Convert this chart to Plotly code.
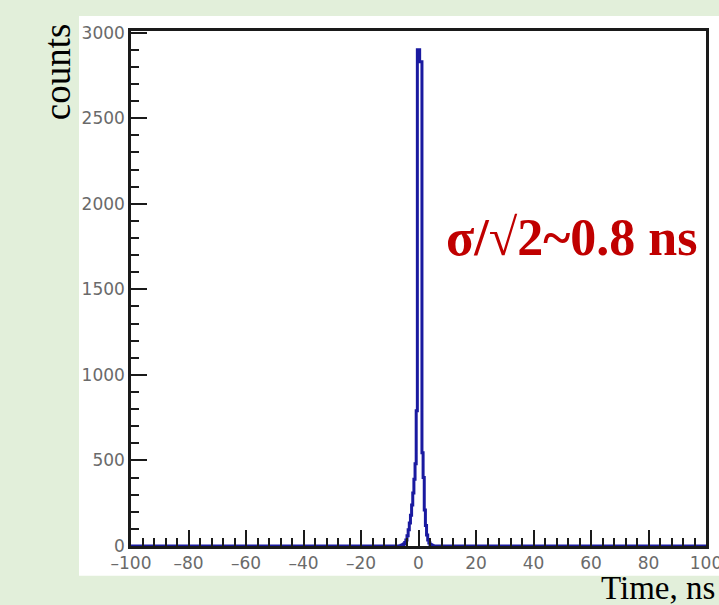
import plotly.graph_objects as go

# Histogram (step) data: left bin edges in ns and counts; zero elsewhere
bin_left_ns = [-100.0, -6.4, -6.0, -5.6, -5.2, -4.8, -4.4, -4.0, -3.6, -3.2, -2.8, -2.4,
               -2.0, -1.6, -1.2, -0.8, -0.4, 0.0, 0.4, 0.8, 1.2, 1.6, 2.0, 2.4, 2.8,
               3.2, 3.6, 4.0, 4.4, 4.8, 5.2, 100.0]
counts = [0, 2, 4, 7, 12, 20, 35, 60, 95, 135, 180, 240,
          310, 390, 480, 790, 2900, 2900, 2830, 2830, 545, 400, 210, 120, 65,
          35, 18, 9, 4, 2, 0, 0]

x_ticks = [-100, -80, -60, -40, -20, 0, 20, 40, 60, 80, 100]
x_tick_labels = ["\u2013100", "\u201380", "\u201360", "\u201340", "\u201320", "0",
                 "20", "40", "60", "80", "100"]
y_ticks = [0, 500, 1000, 1500, 2000, 2500, 3000]

fig = go.Figure()
fig.add_trace(go.Scatter(
    x=bin_left_ns, y=counts, mode="lines", line_shape="hv",
    line=dict(color="#1a1aa0", width=3), showlegend=False, hoverinfo="skip"))

# white panel behind the plot
fig.add_shape(type="rect", xref="paper", yref="paper",
              x0=-0.0904, x1=1.03, y0=-0.058, y1=1.029,
              fillcolor="white", line=dict(width=0), layer="below")

axis_common = dict(showline=True, linecolor="#1a1a1a", linewidth=2.5, mirror=True,
                   showgrid=False, zeroline=False, ticks="inside", ticklen=16,
                   tickwidth=2, tickcolor="#1a1a1a", ticklabeloverflow="allow",
                   automargin=False,
                   tickfont=dict(family="DejaVu Sans", size=17, color="#6a6a6a"))

fig.update_xaxes(range=[-100, 100], tickvals=x_ticks, ticktext=x_tick_labels,
                 minor=dict(dtick=4, tick0=-100, ticks="inside", ticklen=8, tickwidth=2,
                            tickcolor="#1a1a1a", showgrid=False),
                 **axis_common)
fig.update_yaxes(range=[0, 3010], tickvals=y_ticks,
                 minor=dict(dtick=100, tick0=0, ticks="inside", ticklen=8, tickwidth=2,
                            tickcolor="#1a1a1a", showgrid=False),
                 **axis_common)

fig.add_annotation(text="<b>σ/√2~0.8 ns</b>", xref="paper", yref="paper", x=0.766, y=0.60,
                   showarrow=False, font=dict(family="Liberation Serif", size=52, color="#c00000"),
                   xanchor="center", yanchor="middle")
fig.add_annotation(text="counts", xref="paper", yref="paper", x=-0.1287, y=0.922,
                   textangle=-90, showarrow=False,
                   font=dict(family="Liberation Serif", size=37, color="black"),
                   xanchor="center", yanchor="middle")
fig.add_annotation(text="Time, ns", xref="paper", yref="paper", x=1.019, y=-0.081,
                   showarrow=False,
                   font=dict(family="Liberation Serif", size=33, color="black"),
                   xanchor="right", yanchor="middle")

fig.update_layout(width=719, height=605, margin=dict(l=131, r=13, t=31, b=59),
                  paper_bgcolor="#e2efda", plot_bgcolor="white")
fig.write_html("out.html", config={"displayModeBar": False},
               post_script="document.body.style.margin='0';document.body.style.overflow='hidden';")
